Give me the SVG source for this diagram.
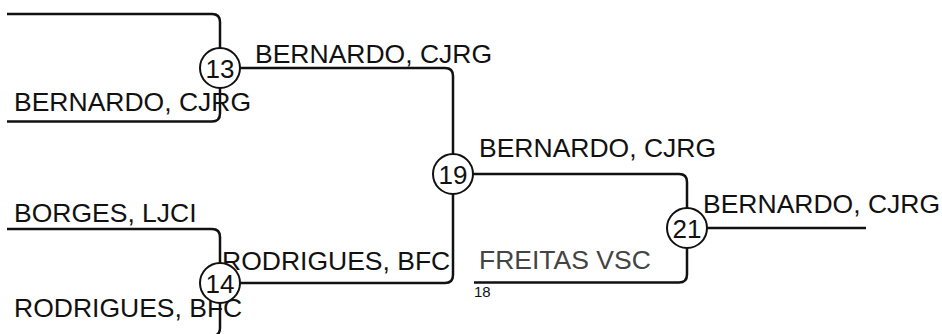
<svg xmlns="http://www.w3.org/2000/svg" width="942" height="334" viewBox="0 0 942 334">
<style>
  .ln { fill: none; stroke: #111; stroke-width: 2.5; }
  .nd circle { fill: #fff; stroke: #111; stroke-width: 2; }
  .num { font-family: "Liberation Sans", Arial, sans-serif; font-size: 26px; fill: #111; text-anchor: middle; }
  .lbl { font-family: "Liberation Sans", Arial, sans-serif; font-size: 26.5px; fill: #111; }
  .grey { fill: #444; }
  .small { font-family: "Liberation Sans", Arial, sans-serif; font-size: 15px; fill: #111; }
</style>
<rect width="942" height="334" fill="#fff"/>
<g id="connectors">
  <path class="ln" d="M7,14 H212 Q220,14 220,22 V48"/>
  <path class="ln" d="M7,121.5 H212 Q220,121.5 220,113.5 V88"/>
  <path class="ln" d="M240,68 H445 Q453,68 453,76 V154"/>
  <path class="ln" d="M7,229 H212 Q220,229 220,237 V263"/>
  <path class="ln" d="M7,336 H212 Q220,336 220,328 V303"/>
  <path class="ln" d="M240,283 H445 Q453,283 453,275 V194"/>
  <path class="ln" d="M473,174 H679 Q687,174 687,182 V208"/>
  <path class="ln" d="M474,282.5 H679 Q687,282.5 687,274.5 V248"/>
  <path class="ln" d="M707,228 H866"/>
</g>
<g id="labels">
  <text class="lbl" x="255" y="63">BERNARDO, CJRG</text>
  <text class="lbl" x="14" y="110.5">BERNARDO, CJRG</text>
  <text class="lbl" x="14" y="221.5">BORGES, LJCI</text>
  <text class="lbl" x="222" y="270">RODRIGUES, BFC</text>
  <text class="lbl" x="14" y="317">RODRIGUES, BFC</text>
  <text class="lbl" x="479" y="157">BERNARDO, CJRG</text>
  <text class="lbl" x="703" y="213">BERNARDO, CJRG</text>
  <text class="lbl grey" x="479" y="269">FREITAS VSC</text>
  <text class="small" x="474" y="297">18</text>
</g>
<g id="node-13" class="nd">
  <circle cx="220" cy="68" r="20"/>
  <text class="num" x="220" y="77.5">13</text>
</g>
<g id="node-14" class="nd">
  <circle cx="220" cy="283" r="20"/>
  <text class="num" x="220" y="292.5">14</text>
</g>
<g id="node-19" class="nd">
  <circle cx="453" cy="174" r="20"/>
  <text class="num" x="453" y="183.5">19</text>
</g>
<g id="node-21" class="nd">
  <circle cx="687" cy="228" r="20"/>
  <text class="num" x="687" y="237.5">21</text>
</g>
</svg>
